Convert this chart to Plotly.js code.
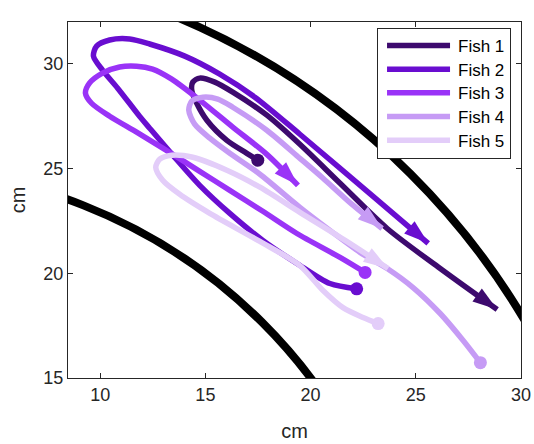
<!DOCTYPE html>
<html>
<head>
<meta charset="utf-8">
<script src="https://cdn.plot.ly/plotly-3.0.1.min.js"></script>
<style>html,body{margin:0;padding:0;background:#fff;}#chart{width:534px;height:444px;}</style>
</head>
<body>
<div id="chart"></div>
<script>
// ---- data (cm) ----
const fishNames = ["Fish 1", "Fish 2", "Fish 3", "Fish 4", "Fish 5"];
const fishColors = ["#3d0a6e", "#690dd0", "#9a33f7", "#c69bf5", "#e3cdf9"];

const fish1X = [17.49,16.97,16.02,15.07,14.59,14.35,14.40,14.73,15.45,16.30,17.92,19.49,21.40,23.64,26.16,28.87];
const fish1Y = [25.40,25.73,26.35,27.31,28.12,28.75,29.13,29.32,29.13,28.65,27.55,26.16,24.30,22.14,20.23,18.27];

const fish2X = [22.19,20.92,19.35,17.73,16.16,14.73,13.45,12.35,11.87,10.83,10.11,9.68,9.83,10.45,11.40,12.35,14.02,15.68,17.35,19.49,22.97,25.59];
const fish2Y = [19.26,19.51,20.47,21.57,22.86,24.20,25.64,26.93,27.50,28.84,29.70,30.37,30.85,31.14,31.19,30.95,30.37,29.51,28.41,26.64,23.67,21.43];

const fish3X = [22.59,21.40,19.35,17.73,16.16,14.73,13.07,11.73,10.45,9.59,9.30,9.49,10.11,10.92,11.73,12.49,13.40,14.73,16.30,17.92,19.40];
const fish3Y = [20.04,20.76,21.90,22.96,23.96,24.87,25.92,26.74,27.50,28.12,28.60,29.08,29.56,29.85,29.89,29.75,29.27,28.27,26.98,25.68,24.20];

const fish4X = [28.07,27.26,26.16,24.87,23.64,22.35,20.92,19.49,17.59,16.16,15.21,14.49,14.21,14.35,14.88,15.59,16.30,17.92,19.49,20.59,21.97,23.40];
const fish4Y = [15.73,16.78,18.08,19.32,20.23,21.00,22.05,23.15,24.73,25.73,26.45,27.12,27.79,28.22,28.41,28.32,27.93,26.83,25.49,24.54,23.29,22.14];

const fish5X = [23.21,22.49,21.54,20.59,19.49,17.59,15.21,13.78,12.97,12.64,12.83,13.40,14.40,16.02,17.59,19.49,21.64,23.68];
const fish5Y = [17.60,17.89,18.36,19.18,20.37,21.52,22.86,23.77,24.44,25.06,25.45,25.64,25.54,24.92,24.11,22.91,21.57,20.23];

// arena walls: circles centred on the origin
const arenaRadii = [25, 35];

const xTicks = [10, 15, 20, 25, 30];
const yTicks = [15, 20, 25, 30];
const axisLabel = "cm";

// ---- build ----
const allX = [fish1X, fish2X, fish3X, fish4X, fish5X];
const allY = [fish1Y, fish2Y, fish3Y, fish4Y, fish5Y];
const FONT = "Liberation Sans, Arial, Helvetica, sans-serif";
const AX = "#262626";

const traces = [];
for (let i = 0; i < fishNames.length; i++) {
  const xs = allX[i], ys = allY[i], n = xs.length;
  const back = xs.map((v, k) => (k === n - 1 ? 7 : 0));
  traces.push({
    type: "scatter", mode: "lines", name: fishNames[i],
    x: xs, y: ys,
    line: { color: fishColors[i], width: 5.5, shape: "spline", smoothing: 0.8, backoff: back },
    hoverinfo: "skip"
  });
  traces.push({
    type: "scatter", mode: "markers", showlegend: false,
    x: [xs[0]], y: [ys[0]],
    marker: { symbol: "circle", size: 13, color: fishColors[i], opacity: 1 },
    hoverinfo: "skip"
  });
  traces.push({
    type: "scatter", mode: "markers", showlegend: false,
    x: [xs[n - 2], xs[n - 1]], y: [ys[n - 2], ys[n - 1]],
    marker: { symbol: "arrow", size: [0, 26], angleref: "previous", color: fishColors[i],
              opacity: 1, line: { width: 0 } },
    hoverinfo: "skip"
  });
}

const shapes = arenaRadii.map(r => ({
  type: "circle", xref: "x", yref: "y",
  x0: -r, x1: r, y0: -r, y1: r,
  line: { color: "#000000", width: 8 },
  layer: "above"
}));

const axisCommon = {
  showline: true, linecolor: AX, linewidth: 1, mirror: "ticks",
  ticks: "inside", ticklen: 5, tickcolor: AX, tickwidth: 1,
  showgrid: false, zeroline: false,
  tickfont: { family: FONT, size: 18, color: AX }
};

const layout = {
  width: 534, height: 444,
  margin: { l: 68, r: 13, t: 22, b: 66 },
  paper_bgcolor: "#ffffff", plot_bgcolor: "#ffffff",
  font: { family: FONT },
  xaxis: Object.assign({}, axisCommon, {
    range: [8.47, 30], tickmode: "array", tickvals: xTicks,
    title: { text: axisLabel, standoff: 20, font: { family: FONT, size: 20, color: AX } }
  }),
  yaxis: Object.assign({}, axisCommon, {
    range: [15, 32], tickmode: "array", tickvals: yTicks,
    title: { text: axisLabel, standoff: 12, font: { family: FONT, size: 20, color: AX } }
  }),
  shapes: shapes,
  showlegend: true,
  legend: {
    x: 0.978, y: 0.982, xanchor: "right", yanchor: "top",
    bgcolor: "#ffffff", bordercolor: AX, borderwidth: 1,
    font: { family: FONT, size: 17, color: "#000000" },
    itemwidth: 70
  }
};

Plotly.newPlot("chart", traces, layout, { staticPlot: true, displayModeBar: false }).then(() => {
  const gd = document.getElementById("chart");
  gd.querySelectorAll(".legend .legendlines path").forEach(p => {
    p.setAttribute("d", "M9,0h63");
  });
  // tighten legend row spacing to match the reference
  const items = gd.querySelectorAll(".legend .traces");
  const STEP = 23.7;
  let y0 = null;
  items.forEach((g, i) => {
    const m = /translate\(\s*([-\d.]+)[ ,]+([-\d.]+)\s*\)/.exec(g.getAttribute("transform") || "");
    if (!m) return;
    if (y0 === null) { y0 = parseFloat(m[2]) - 1.5; }
    g.setAttribute("transform", "translate(" + parseFloat(m[1]) + "," + (y0 + i * STEP) + ")");
  });
  if (y0 !== null) {
    const bg = gd.querySelector(".legend rect.bg");
    if (bg) {
      const bw = parseFloat(bg.getAttribute("stroke-width") || "1");
      bg.setAttribute("height", y0 + (items.length - 1) * STEP + (y0 + bw * 0.5));
    }
  }
});
</script>
</body>
</html>
